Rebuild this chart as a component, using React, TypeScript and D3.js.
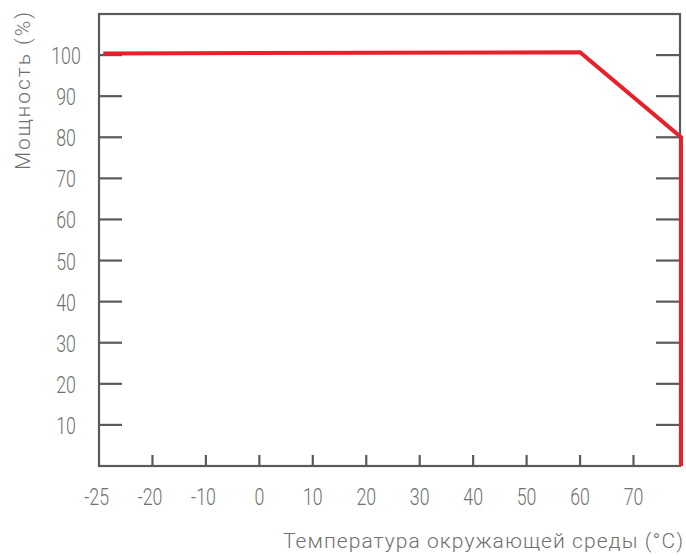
import React, { useEffect, useRef } from "react";
import * as d3 from "d3";

const xTickValues = [-25, -20, -10, 0, 10, 20, 30, 40, 50, 60, 70];
const xTickLabels = ["-25", "-20", "-10", "0", "10", "20", "30", "40", "50", "60", "70"];
const yTickValues = [10, 20, 30, 40, 50, 60, 70, 80, 90, 100];
const tempSeries = [-24.6, 60, 78.7, 78.7];
const powerSeries = [100.4, 100.7, 80, 0];
const xMaxTemp = 78.7;
const yMaxValue = 110;
const xTitle = "Температура окружающей среды (°C)";
const yTitle = "Мощность (%)";

export default function App() {
  const ref = useRef<SVGSVGElement>(null);
  useEffect(() => {
    const svg = d3.select(ref.current);
    svg.selectAll("*").remove();
    const left = 99, top = 14, bottom = 466;
    const step = 53.45;
    const x = d3
      .scaleLinear()
      .domain([-25, -20, -10, 70])
      .range([left, left + step, left + 2 * step, left + 10 * step]);
    const y = d3.scaleLinear().domain([0, yMaxValue]).range([bottom, top]);
    const axisColor = "#5a5a5a";
    const textColor = "#707070";
    const font = "Roboto, 'Liberation Sans Narrow', sans-serif";

    svg
      .append("rect")
      .attr("x", left)
      .attr("y", top)
      .attr("width", x(xMaxTemp) - left)
      .attr("height", bottom - top)
      .attr("fill", "none")
      .attr("stroke", axisColor)
      .attr("stroke-width", 2.2);

    svg
      .selectAll(".ytl")
      .data(yTickValues)
      .join("line")
      .attr("x1", left)
      .attr("x2", left + 23)
      .attr("y1", (d) => y(d))
      .attr("y2", (d) => y(d))
      .attr("stroke", axisColor)
      .attr("stroke-width", 2.2);
    svg
      .selectAll(".ytr")
      .data(yTickValues)
      .join("line")
      .attr("x1", x(xMaxTemp) - 24)
      .attr("x2", x(xMaxTemp))
      .attr("y1", (d) => y(d))
      .attr("y2", (d) => y(d))
      .attr("stroke", axisColor)
      .attr("stroke-width", 2.2);
    svg
      .selectAll(".xt")
      .data(xTickValues.slice(1))
      .join("line")
      .attr("x1", (d) => x(d))
      .attr("x2", (d) => x(d))
      .attr("y1", bottom - 11)
      .attr("y2", bottom)
      .attr("stroke", axisColor)
      .attr("stroke-width", 2.2);

    svg
      .selectAll(".yl")
      .data(yTickValues)
      .join("text")
      .attr("transform", (d) => `translate(66,${y(d) + 9}) scale(0.74,1)`)
      .attr("text-anchor", "middle")
      .attr("font-family", font)
      .attr("font-weight", 300)
      .attr("font-size", 24)
      .attr("fill", textColor)
      .text((d) => String(d));

    svg
      .selectAll(".xl")
      .data(xTickValues)
      .join("text")
      .attr("transform", (d) =>
        d < 0 ? `translate(${x(d) + 10},505) scale(0.74,1)` : `translate(${x(d)},505) scale(0.74,1)`
      )
      .attr("text-anchor", (d) => (d < 0 ? "end" : "middle"))
      .attr("font-family", font)
      .attr("font-weight", 300)
      .attr("font-size", 24)
      .attr("fill", textColor)
      .text((d, i) => xTickLabels[i]);

    const pts = tempSeries.map((t, i) => [t, powerSeries[i]] as [number, number]);
    const line = d3
      .line<[number, number]>()
      .x((d) => x(d[0]) + (d[0] >= xMaxTemp ? 1 : 0))
      .y((d) => y(d[1]));
    svg
      .append("path")
      .attr("d", line(pts))
      .attr("fill", "none")
      .attr("stroke", "#e8202a")
      .attr("stroke-width", 4)
      .attr("stroke-linejoin", "miter");

    svg
      .append("text")
      .attr("x", 683)
      .attr("y", 548)
      .attr("text-anchor", "end")
      .attr("font-family", font)
      .attr("font-weight", 300)
      .attr("font-size", 21)
      .attr("fill", textColor)
      .attr("textLength", 400)
      .attr("lengthAdjust", "spacing")
      .text(xTitle);

    svg
      .append("text")
      .attr("transform", "translate(30,170) rotate(-90)")
      .attr("text-anchor", "start")
      .attr("font-family", font)
      .attr("font-weight", 300)
      .attr("font-size", 21)
      .attr("fill", textColor)
      .attr("textLength", 158)
      .attr("lengthAdjust", "spacing")
      .text(yTitle);
  }, []);
  return (
    <svg
      ref={ref}
      width={686}
      height={556}
      style={{ position: "absolute", left: 0, top: 0, background: "#fff", display: "block" }}
    />
  );
}
